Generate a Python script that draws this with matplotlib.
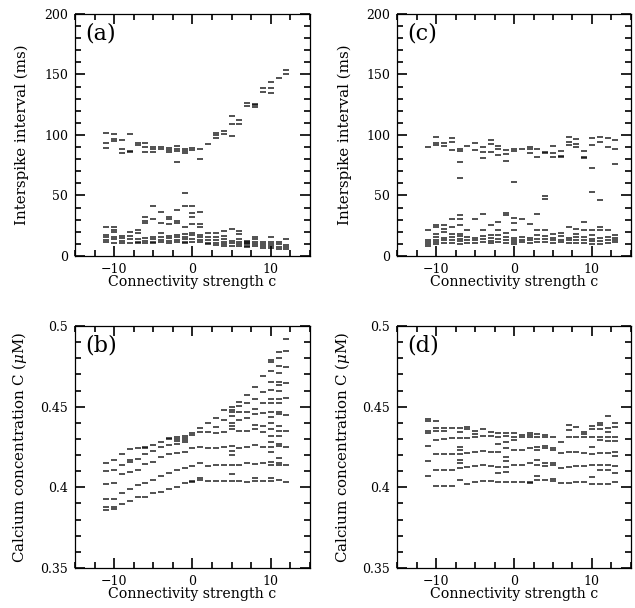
import matplotlib
matplotlib.use("Agg")
import matplotlib.pyplot as plt
from matplotlib.ticker import MultipleLocator

# connectivity strength columns
c_ab = list(range(-11, 13))
c_cd = list(range(-11, 14))

# (a) interspike intervals (ms), one list per column of c_ab
isi_a = [
    [101.9, 93.1, 89.5, 24.2, 17.4, 15.4, 13.2, 11.3],
    [100.6, 97.0, 95.0, 24.2, 21.5, 20.1, 16.0, 14.0, 11.0],
    [95.9, 88.2, 85.4, 16.5, 14.6, 12.6, 11.0],
    [100.6, 87.0, 85.7, 20.1, 16.5, 13.8, 11.0],
    [93.1, 91.7, 21.5, 18.7, 13.8, 11.8, 10.5],
    [93.1, 89.8, 86.2, 32.0, 29.2, 27.0, 14.6, 12.6, 10.5],
    [89.8, 88.4, 86.2, 41.6, 30.3, 16.0, 14.0, 11.8, 10.5],
    [90.4, 88.2, 36.1, 27.0, 18.7, 15.4, 13.2, 11.3],
    [89.0, 87.6, 86.2, 32.0, 30.3, 26.2, 16.8, 14.6, 12.6, 10.5],
    [91.2, 88.4, 87.0, 77.7, 38.0, 29.2, 27.5, 17.4, 15.4, 13.2, 11.3],
    [88.4, 86.8, 85.1, 52.3, 41.3, 23.7, 18.2, 16.0, 14.0, 11.8, 10.5],
    [89.0, 87.6, 41.3, 35.3, 32.0, 26.2, 19.3, 17.4, 13.8, 11.8],
    [88.4, 80.4, 36.6, 26.2, 24.2, 17.4, 15.4, 13.2, 11.3],
    [92.5, 19.3, 16.0, 13.2, 11.0, 9.9],
    [101.9, 99.7, 97.5, 18.7, 15.4, 13.2, 11.0, 9.1],
    [103.0, 100.6, 20.9, 16.5, 13.8, 11.8, 9.9, 8.3],
    [115.7, 108.8, 99.4, 22.1, 12.6, 10.5, 8.3],
    [112.4, 109.1, 20.9, 18.2, 13.8, 11.8, 9.9, 8.3],
    [126.7, 124.2, 12.5, 11.8, 10.5, 9.5, 8.5, 7.2],
    [125.6, 124.5, 123.4, 15.4, 13.8, 11.8, 9.9, 8.3],
    [139.1, 135.8, 11.8, 9.9, 8.3, 6.3],
    [143.8, 139.1, 134.5, 16.0, 11.8, 9.9, 8.3, 6.3],
    [147.1, 11.8, 9.9, 7.7, 5.8],
    [153.7, 150.4, 13.8, 9.1, 7.7, 5.8],
]

# (c) interspike intervals (ms), one list per column of c_cd
isi_c = [
    [90.2, 21.2, 13.5, 11.6, 9.7, 8.0],
    [98.5, 93.5, 91.6, 25.9, 24.0, 18.5, 15.7, 13.5, 11.6, 9.7],
    [93.0, 91.0, 25.4, 22.6, 19.9, 15.2, 13.0, 10.8],
    [97.7, 93.8, 87.4, 30.9, 24.0, 18.5, 15.7, 13.0, 10.8],
    [88.3, 86.9, 77.8, 64.8, 33.7, 30.9, 25.4, 18.5, 16.3, 14.3, 12.4, 10.2],
    [91.0, 21.2, 15.7, 13.0, 10.8],
    [93.0, 87.4, 30.9, 15.2, 13.0, 10.8],
    [90.2, 86.1, 81.1, 34.5, 21.8, 16.3, 14.3, 11.6],
    [95.7, 92.4, 86.1, 25.4, 17.1, 15.2, 12.4, 10.8],
    [90.8, 88.3, 83.3, 28.1, 21.2, 17.1, 14.3, 11.6],
    [87.4, 83.9, 78.6, 35.9, 34.2, 19.0, 15.7, 13.5, 10.8],
    [88.3, 86.6, 61.2, 31.7, 27.3, 21.2, 15.2, 13.5, 11.6, 9.7],
    [88.0, 30.9, 15.7, 13.5, 11.6],
    [90.2, 88.8, 84.7, 26.2, 15.2, 13.5, 10.8],
    [88.3, 81.9, 35.0, 21.8, 17.1, 14.3, 11.6],
    [86.1, 84.7, 49.7, 47.4, 21.2, 16.3, 14.3, 11.6],
    [91.0, 85.2, 81.4, 17.9, 15.2, 13.0, 10.8],
    [86.9, 82.8, 81.9, 19.0, 16.3, 13.5, 11.6],
    [98.5, 94.3, 92.1, 24.0, 15.2, 13.0, 10.8],
    [96.3, 92.4, 90.2, 22.6, 18.5, 15.7, 13.5, 10.8],
    [86.9, 81.9, 80.6, 28.1, 21.2, 15.7, 13.0, 10.8],
    [97.1, 91.6, 72.3, 53.0, 21.2, 17.1, 14.3, 12.4, 10.2],
    [98.5, 94.3, 46.1, 24.0, 21.2, 15.2, 12.4, 10.2],
    [97.1, 90.2, 21.2, 15.7, 13.5, 10.8],
    [95.7, 88.0, 76.4, 17.1, 15.2, 13.0, 11.3],
]

# (b) calcium concentration (uM), one list per column of c_ab
ca_b = [
    [0.4148, 0.4102, 0.4023, 0.3926, 0.3875, 0.3860],
    [0.4172, 0.4108, 0.4027, 0.3926, 0.3880, 0.3866],
    [0.4206, 0.4139, 0.4085, 0.3965, 0.3898],
    [0.4235, 0.4170, 0.4160, 0.4093, 0.3992, 0.3918],
    [0.4241, 0.4176, 0.4110, 0.4017, 0.3939],
    [0.4250, 0.4245, 0.4208, 0.4145, 0.4027, 0.3940],
    [0.4260, 0.4228, 0.4160, 0.4048, 0.3965],
    [0.4282, 0.4250, 0.4185, 0.4068, 0.3970],
    [0.4303, 0.4297, 0.4260, 0.4205, 0.4089, 0.3992],
    [0.4313, 0.4300, 0.4290, 0.4270, 0.4215, 0.4110, 0.4003],
    [0.4318, 0.4305, 0.4292, 0.4280, 0.4220, 0.4120, 0.4024],
    [0.4334, 0.4325, 0.4241, 0.4133, 0.4034, 0.4040],
    [0.4366, 0.4340, 0.4250, 0.4150, 0.4045, 0.4060],
    [0.4396, 0.4340, 0.4245, 0.4135, 0.4040],
    [0.4430, 0.4375, 0.4337, 0.4245, 0.4140, 0.4040],
    [0.4478, 0.4418, 0.4345, 0.4250, 0.4140, 0.4040],
    [0.4495, 0.4480, 0.4470, 0.4440, 0.4400, 0.4380, 0.4360, 0.4255,
     0.4225, 0.4200, 0.4140, 0.4080, 0.4040],
    [0.4530, 0.4505, 0.4465, 0.4420, 0.4350, 0.4245, 0.4140, 0.4040],
    [0.4570, 0.4520, 0.4470, 0.4430, 0.4350, 0.4250, 0.4150, 0.4035],
    [0.4620, 0.4550, 0.4485, 0.4455, 0.4385, 0.4360, 0.4260, 0.4145,
     0.4055, 0.4040],
    [0.4690, 0.4590, 0.4520, 0.4460, 0.4380, 0.4345, 0.4250, 0.4150, 0.4040],
    [0.4790, 0.4775, 0.4720, 0.4655, 0.4605, 0.4550, 0.4520, 0.4465,
     0.4435, 0.4400, 0.4360, 0.4320, 0.4280, 0.4250, 0.4220, 0.4155,
     0.4140, 0.4060, 0.4040],
    [0.4840, 0.4800, 0.4750, 0.4710, 0.4650, 0.4635, 0.4595, 0.4550,
     0.4520, 0.4470, 0.4455, 0.4380, 0.4350, 0.4320, 0.4270, 0.4255,
     0.4180, 0.4150, 0.4140, 0.4045],
    [0.4917, 0.4842, 0.4744, 0.4648, 0.4551, 0.4448, 0.4350, 0.4251,
     0.4137, 0.4034],
]

# (d) calcium concentration (uM), one list per column of c_cd
ca_d = [
    [0.4423, 0.4410, 0.4350, 0.4338, 0.4259, 0.4162, 0.4069],
    [0.4412, 0.4369, 0.4350, 0.4292, 0.4206, 0.4110, 0.4009],
    [0.4365, 0.4348, 0.4297, 0.4206, 0.4110, 0.4009],
    [0.4369, 0.4303, 0.4206, 0.4110, 0.4007],
    [0.4365, 0.4344, 0.4307, 0.4251, 0.4230, 0.4206, 0.4172, 0.4148,
     0.4121, 0.4044],
    [0.4375, 0.4359, 0.4303, 0.4214, 0.4127, 0.4023],
    [0.4348, 0.4330, 0.4313, 0.4220, 0.4133, 0.4034],
    [0.4359, 0.4317, 0.4226, 0.4141, 0.4038],
    [0.4344, 0.4317, 0.4220, 0.4131, 0.4038],
    [0.4338, 0.4313, 0.4268, 0.4220, 0.4127, 0.4090, 0.4034],
    [0.4338, 0.4317, 0.4282, 0.4241, 0.4189, 0.4162, 0.4127, 0.4096, 0.4034],
    [0.4334, 0.4313, 0.4292, 0.4230, 0.4137, 0.4034],
    [0.4323, 0.4313, 0.4230, 0.4137, 0.4034],
    [0.4338, 0.4323, 0.4309, 0.4241, 0.4148, 0.4034, 0.4028],
    [0.4328, 0.4313, 0.4251, 0.4230, 0.4168, 0.4137, 0.4071, 0.4044],
    [0.4323, 0.4313, 0.4255, 0.4241, 0.4152, 0.4131, 0.4044],
    [0.4313, 0.4241, 0.4230, 0.4152, 0.4137, 0.4050, 0.4040],
    [0.4282, 0.4210, 0.4117, 0.4028],
    [0.4386, 0.4355, 0.4313, 0.4220, 0.4127, 0.4028],
    [0.4371, 0.4313, 0.4220, 0.4133, 0.4034],
    [0.4344, 0.4328, 0.4309, 0.4210, 0.4133, 0.4034],
    [0.4379, 0.4359, 0.4313, 0.4251, 0.4206, 0.4141, 0.4065, 0.4023],
    [0.4400, 0.4386, 0.4359, 0.4309, 0.4292, 0.4214, 0.4141, 0.4110, 0.4019],
    [0.4441, 0.4365, 0.4344, 0.4309, 0.4288, 0.4214, 0.4137, 0.4110, 0.4023],
    [0.4396, 0.4375, 0.4309, 0.4288, 0.4220, 0.4193, 0.4131, 0.4090, 0.4034],
]

ISI_LABEL = "Interspike interval (ms)"
CA_LABEL = r"Calcium concentration C ($\mu$M)"
X_LABEL = "Connectivity strength c"

plt.rcParams["font.family"] = "DejaVu Serif"
plt.rcParams["mathtext.fontset"] = "dejavuserif"
plt.rcParams["axes.linewidth"] = 0.9


def draw_panel(ax, cols, values, tag, ylim, major, minor, ylabel):
    for c, vals in zip(cols, values):
        ax.plot([c] * len(vals), vals, ls="none", marker="_", ms=5.0,
                mew=1.2, color="black", alpha=0.8)
    ax.set_xlim(-15, 15)
    ax.set_ylim(*ylim)
    ax.xaxis.set_major_locator(MultipleLocator(10))
    ax.xaxis.set_minor_locator(MultipleLocator(2.5))
    ax.yaxis.set_major_locator(MultipleLocator(major))
    ax.yaxis.set_minor_locator(MultipleLocator(minor))
    ax.tick_params(which="both", direction="in", top=True, right=True,
                   width=1.2, color="black", labelsize=9, pad=5)
    ax.tick_params(which="major", length=7.5)
    ax.tick_params(which="minor", length=4)
    ax.set_xlabel(X_LABEL, fontsize=10.2)
    ax.set_ylabel(ylabel, fontsize=10.8)
    ax.xaxis.set_label_coords(0.5, -0.08)
    ax.yaxis.set_label_coords(-0.195, 0.5)
    ax.text(0.045, 0.965, tag, transform=ax.transAxes, ha="left", va="top",
            fontsize=16)


fig = plt.figure(figsize=(6.35, 6.08), dpi=100)
ax_a = fig.add_axes([0.118, 0.579, 0.370, 0.398])
ax_c = fig.add_axes([0.6255, 0.579, 0.368, 0.398])
ax_b = fig.add_axes([0.118, 0.0658, 0.370, 0.398])
ax_d = fig.add_axes([0.6255, 0.0658, 0.368, 0.398])

draw_panel(ax_a, c_ab, isi_a, "(a)", (0, 200), 50, 10, ISI_LABEL)
draw_panel(ax_c, c_cd, isi_c, "(c)", (0, 200), 50, 10, ISI_LABEL)
draw_panel(ax_b, c_ab, ca_b, "(b)", (0.35, 0.5), 0.05, 0.01, CA_LABEL)
draw_panel(ax_d, c_cd, ca_d, "(d)", (0.35, 0.5), 0.05, 0.01, CA_LABEL)

for ax in (ax_b, ax_d):
    ax.set_yticks([0.35, 0.4, 0.45, 0.5])
    ax.set_yticklabels(["0.35", "0.4", "0.45", "0.5"])

fig.savefig("out.png", dpi=100)
